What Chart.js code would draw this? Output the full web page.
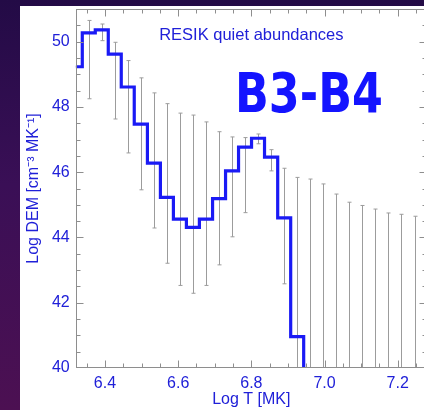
<!DOCTYPE html>
<html>
<head>
<meta charset="utf-8">
<script src="https://cdn.jsdelivr.net/npm/chart.js@4.4.1/dist/chart.umd.min.js"></script>
<style>
  html, body { margin: 0; padding: 0; width: 424px; height: 410px; overflow: hidden;
    background: linear-gradient(180deg, #230b46 0%, #3a0f56 45%, #4c1052 100%); }
  #paper { position: absolute; left: 20px; top: 6px; right: 0; bottom: 0; background: #fff; }
  #c { position: absolute; left: 0; top: 0; }
</style>
</head>
<body>
<div id="paper"></div>
<canvas id="c" width="432" height="410"></canvas>
<script>
// log T grid (bin centres), MK
const logT = [6.320, 6.356, 6.391, 6.427, 6.462, 6.498, 6.534, 6.569, 6.605, 6.640,
              6.676, 6.712, 6.747, 6.783, 6.818, 6.854, 6.890, 6.925, 6.961, 6.996,
              7.032, 7.068, 7.103, 7.139, 7.174, 7.210, 7.246];
// log DEM histogram (last value is off the bottom of the plot)
const logDEM = [49.23, 50.27, 50.36, 49.62, 48.61, 47.47, 46.28, 45.23, 44.56, 44.31,
                44.56, 45.19, 46.04, 46.77, 47.04, 46.46, 44.60, 40.96, 36.0];
// error bar ends
const errHigh = [null, 50.65, 50.54, 49.98, 49.42, 48.89, 48.43, 48.10, 47.81, 47.75,
                 47.54, 47.24, 47.08, 47.06, 47.17, 46.69, 46.12, 45.84, 45.79, 45.64,
                 45.33, 45.08, 44.98, 44.87, 44.75, 44.71, 44.65];
const errLow = [null, 48.25, 50.03, 47.63, 46.59, 45.46, 44.29, 43.21, 42.53, 42.29,
                42.53, 43.16, 44.02, 44.76, 46.87, 46.04, 42.58, 38.0, 38.0, 38.0,
                38.0, 38.0, 38.0, 38.0, 38.0, 38.0, 38.0];
const xTicks = [6.4, 6.6, 6.8, 7.0, 7.2];
const yTicks = [40, 42, 44, 46, 48, 50];

const BLUE = '#2020d8';
const FONT = "'Liberation Sans', Arial, sans-serif";

const points = logDEM.map((v, i) => ({ x: logT[i], y: v }));

const deco = {
    id: 'deco',
    beforeDatasetsDraw(chart) {
        const { ctx, chartArea: a, scales: { x, y } } = chart;
        ctx.save();
        ctx.beginPath();
        ctx.rect(a.left, a.top, a.right - a.left, a.bottom - a.top);
        ctx.clip();
        ctx.strokeStyle = '#9c9c9c';
        ctx.lineWidth = 1;
        logT.forEach((t, i) => {
            if (errHigh[i] == null) return;
            const px = Math.round(x.getPixelForValue(t)) + 0.5;
            const y1 = y.getPixelForValue(errHigh[i]);
            const y2 = y.getPixelForValue(errLow[i]);
            ctx.beginPath();
            ctx.moveTo(px, y1); ctx.lineTo(px, y2);
            ctx.moveTo(px - 2, y1); ctx.lineTo(px + 2, y1);
            ctx.moveTo(px - 2, y2); ctx.lineTo(px + 2, y2);
            ctx.stroke();
        });
        ctx.restore();
    },
    afterDraw(chart) {
        const { ctx, chartArea: a, scales: { x, y } } = chart;
        ctx.save();
        ctx.strokeStyle = '#8e8e8e';
        ctx.lineWidth = 1;
        const L = Math.round(a.left) + 0.5, R = Math.round(a.right) - 0.5;
        const T = Math.round(a.top) + 0.5, B = Math.round(a.bottom) - 0.5;
        ctx.strokeRect(L, T, R - L, B - T);
        ctx.beginPath();
        for (let v = 6.35; v < 7.28; v += 0.05) {
            const major = xTicks.some(t => Math.abs(t - v) < 1e-6);
            const len = major ? 7 : 4;
            const px = Math.round(x.getPixelForValue(v)) + 0.5;
            ctx.moveTo(px, B); ctx.lineTo(px, B - len);
            ctx.moveTo(px, T); ctx.lineTo(px, T + len);
        }
        for (let v = 40.5; v < 51; v += 0.5) {
            const major = yTicks.includes(v);
            const len = major ? 7 : 4;
            const py = Math.round(y.getPixelForValue(v)) + 0.5;
            ctx.moveTo(L, py); ctx.lineTo(L + len, py);
            ctx.moveTo(R, py); ctx.lineTo(R - len, py);
        }
        ctx.stroke();

        ctx.fillStyle = BLUE;
        ctx.textAlign = 'center';
        ctx.textBaseline = 'middle';
        ctx.font = `16.5px ${FONT}`;
        ctx.fillText('RESIK quiet abundances', (a.left + a.right) / 2, 35);

        ctx.fillStyle = '#1414ff';
        ctx.textAlign = 'left';
        ctx.textBaseline = 'alphabetic';
        ctx.font = "bold 56px 'DejaVu Sans', sans-serif";
        ctx.fillText('B3-B4', 235, 112, 148);
        ctx.restore();
    }
};

new Chart(document.getElementById('c'), {
    type: 'line',
    data: {
        datasets: [
            { data: points, stepped: 'middle', borderColor: '#1a1af5', borderWidth: 3.2,
              pointRadius: 0, fill: false, clip: 0 },
            { data: points, stepped: 'middle', borderColor: '#10107a', borderWidth: 1,
              pointRadius: 0, fill: false, clip: 0 },
        ],
    },
    options: {
        responsive: false,
        animation: false,
        layout: { padding: { top: 9, right: 5, left: 0, bottom: 0 } },
        plugins: { legend: { display: false }, tooltip: { enabled: false } },
        scales: {
            x: {
                type: 'linear', min: 6.32, max: 7.28,
                grid: { display: false, drawTicks: false },
                border: { display: false },
                afterBuildTicks: s => { s.ticks = xTicks.map(v => ({ value: v })); },
                afterFit: s => { s.height = 42; s.paddingLeft = 0; s.paddingRight = 0; },
                ticks: { color: BLUE, font: { family: FONT, size: 16 }, padding: 6,
                         maxRotation: 0, callback: v => v.toFixed(1) },
                title: { display: true, text: 'Log T [MK]', color: BLUE,
                         font: { family: FONT, size: 16 }, padding: { top: 0, bottom: 1 } },
            },
            y: {
                type: 'linear', min: 40, max: 51,
                grid: { display: false, drawTicks: false },
                border: { display: false },
                afterBuildTicks: s => { s.ticks = yTicks.map(v => ({ value: v })); },
                afterFit: s => { s.width = 75.7; s.paddingTop = 0; s.paddingBottom = 0; },
                ticks: { color: BLUE, font: { family: FONT, size: 16 }, padding: 6,
                         callback: v => v.toFixed(0) },
                title: { display: true, text: 'Log DEM [cm\u207B\u00B3 MK\u207B\u00B9]', color: BLUE,
                         font: { family: FONT, size: 16 }, padding: { top: 24, bottom: 0 } },
            },
        },
    },
    plugins: [deco],
});
</script>
</body>
</html>
